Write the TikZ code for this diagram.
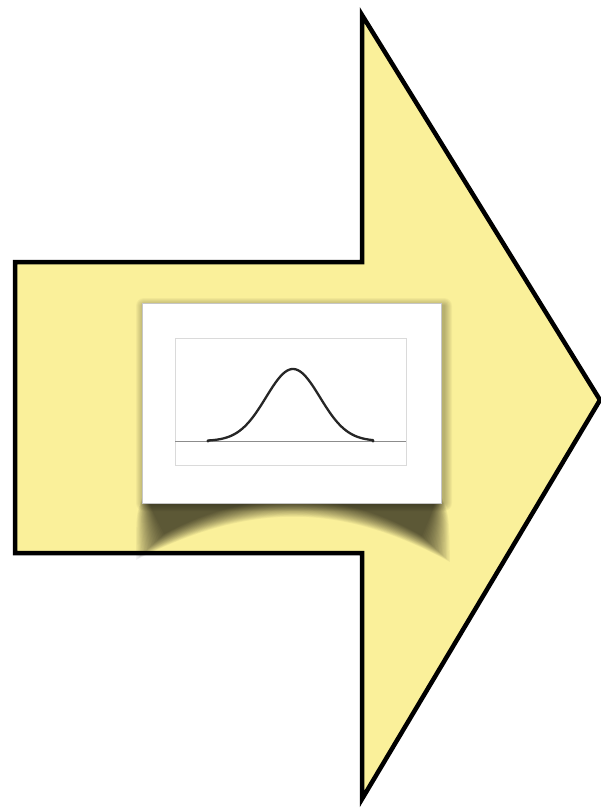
\documentclass[tikz,border=0pt]{standalone}
\usepackage{xcolor}
\usepackage{tikz}
\usetikzlibrary{calc}
\definecolor{arrowFill}{HTML}{FAF09A}
\definecolor{plotFrame}{HTML}{DADADA}
\definecolor{plotAxis}{HTML}{8C8C8C}

\begin{document}
\begin{tikzpicture}[x=1pt, y=-1pt]
    \useasboundingbox (0,0) rectangle (601,808);
    \fill[white] (0,0) rectangle (601,808);

    % big arrow
    \draw[line width=4.5pt, line join=miter, fill=arrowFill]
        (15,262) -- (362,262) -- (362,15) -- (600,400) -- (362,799)
        -- (362,553) -- (15,553) -- cycle;

    % curved shadow below the card
    \foreach \d in {0,...,20}
        \fill[black, opacity=0.042]
            (142+0.3*\d,498) .. controls (136+0.9*\d,515) .. (136+1.4*\d,560-1.3*\d)
            .. controls (250,502-0.7*\d) and (340,502-0.7*\d) .. (450-1.4*\d,562-1.3*\d)
            .. controls (449-0.9*\d,515) .. (442-0.3*\d,498) -- cycle;
    % soft edge shadow
    \foreach \d in {1,...,8}
        \fill[black, opacity=0.035, rounded corners=\d pt]
            (142-\d+2,303-\d+3) rectangle (441+\d+3,503+\d);

    \node[fill=white, draw=gray!45, line width=0.4pt, inner sep=0pt,
          minimum width=299pt, minimum height=200pt] (card) at (291.5,403.5) {};

    % small plot
    \draw[plotFrame, line width=0.6pt] (175,338) rectangle (406,465);
    \draw[plotAxis, line width=1pt] (175,441) -- (406,441);
    \draw[line width=2.3pt, line cap=round, black!85, domain=208:373, samples=80, smooth]
        plot (\x, {441-72*exp(-((\x-293)^2)/(2*27^2))});
    \fill[black!85] (208,441) circle (1.6pt) (373,441) circle (1.6pt);
\end{tikzpicture}
\end{document}
